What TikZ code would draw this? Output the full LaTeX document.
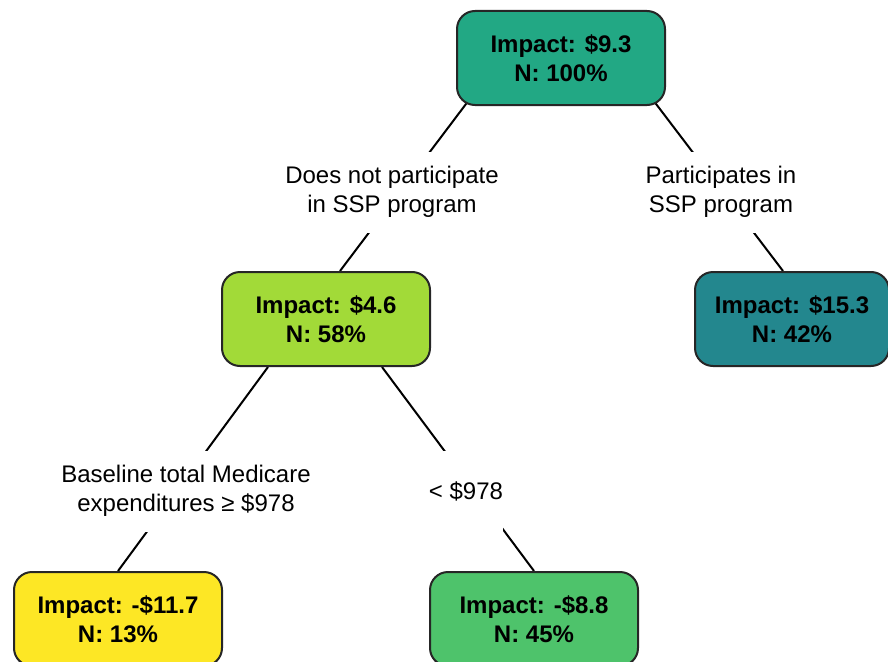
\documentclass[tikz,border=0pt]{standalone}
\usepackage{fontspec}
\setmainfont{Liberation Sans}
\usetikzlibrary{backgrounds}

\definecolor{rootgreen}{HTML}{22A884}
\definecolor{limegreen}{HTML}{A2DA38}
\definecolor{tealblue}{HTML}{23878E}
\definecolor{sunyellow}{HTML}{FDE725}
\definecolor{leafgreen}{HTML}{4EC36B}

\begin{document}
\begin{tikzpicture}[
  x=1pt, y=-1pt,
  box/.style={draw=black!85, line width=2pt, rounded corners=18pt, minimum width=208pt, minimum height=94pt,
    inner sep=0pt, align=center, font=\fontsize{24}{29}\selectfont\bfseries},
  split/.style={fill=white, inner sep=0pt, minimum height=81pt, align=center, font=\fontsize{24}{29}\selectfont},
  edge/.style={line width=2pt}
]
  \useasboundingbox (0,0) rectangle (888,661);

  \node[box, fill=rootgreen] (root) at (561,58) {Impact: \$9.3\\N: 100\%};
  \node[box, fill=limegreen] (nossp) at (326,319) {Impact: \$4.6\\N: 58\%};
  \node[box, fill=tealblue, minimum width=194pt] (ssp) at (792,319) {Impact: \$15.3\\N: 42\%};
  \node[box, fill=sunyellow] (high) at (118,619) {Impact: -\$11.7\\N: 13\%};
  \node[box, fill=leafgreen] (low) at (534,619) {Impact: -\$8.8\\N: 45\%};

  \begin{scope}[on background layer]
    \draw[edge] ([xshift=16pt,yshift=10pt]root.south west) -- ([xshift=14pt]nossp.north);
    \draw[edge] ([xshift=-16pt,yshift=10pt]root.south east) -- ([xshift=-9pt]ssp.north);
    \draw[edge] ([xshift=-58pt]nossp.south) -- (high.north);
    \draw[edge] ([xshift=56pt]nossp.south) -- (low.north);
  \end{scope}

  \node[split] (nosspcut) at (392,192) {Does not participate\\in SSP program};
  \node[split] (sspcut) at (721,192) {Participates in\\SSP program};
  \node[split] (highcut) at (186,491) {Baseline total Medicare\\expenditures ≥ \$978};
  \node[split] (lowcut) at (466,491) {< \$978};
\end{tikzpicture}
\end{document}
